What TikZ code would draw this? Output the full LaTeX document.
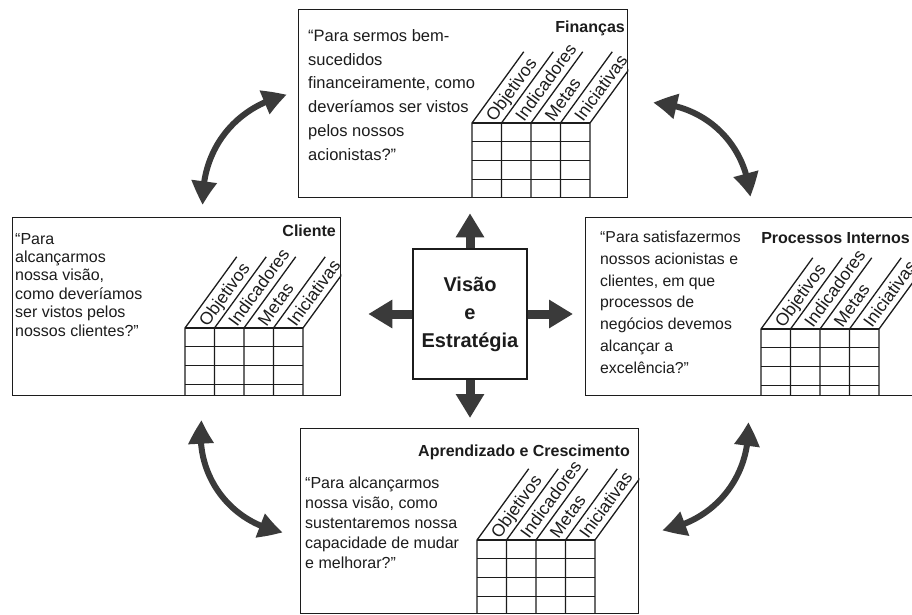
\documentclass[tikz, border = 0pt]{standalone}
\usepackage{fontspec}
\setmainfont{Liberation Sans}
\usetikzlibrary{
    arrows.meta,
    bending,
    calc
}
\definecolor{ink}{HTML}{1C1C1C}
\definecolor{darkarrow}{HTML}{3A3A3A}
\tikzset {
    rule/.style = {draw = ink, line width = 1.3pt},
    panel/.style = {rule, fill = white, inner sep = 0pt, anchor = north west},
    core/.style = {
        rule, fill = white, align = center, text = ink,
        minimum width = 114pt, minimum height = 130pt,
        font = \fontsize{20}{28}\selectfont\bfseries
    },
    heading/.style = {
        anchor = base east, inner sep = 0pt, text = ink,
        font = \fontsize{16}{19}\selectfont\bfseries
    },
    question/.style = {align = left, anchor = base west, inner sep = 0pt, text = ink},
    column label/.style = {
        rotate = 54, anchor = base west, inner sep = 0pt, text = ink,
        font = \fontsize{17.5}{20}\selectfont
    },
    %
    core arrow/.style = {
        draw = darkarrow, line width = 9pt,
        arrows = {-Triangle[length = 24pt 0 0, width = 27pt 0 0]}
    },
    cycle arrow/.style = {
        draw = darkarrow, line width = 6pt,
        arrows = {Triangle[length = 24pt 0 0, width = 24pt 0 0, bend]-Triangle[length = 24pt 0 0, width = 24pt 0 0, bend]}
    },
    scorecard/.pic = {
        \foreach \k in {0, ..., 4} {
            \draw [rule] (\k*29.5, -#1) -- (\k*29.5, 0) -- ++(54:88);
        }
        \foreach \k in {0, ..., 3} {
            \draw [rule] (0, -\k*18.8) -- (118, -\k*18.8);
        }
        \foreach \t [count = \k from 0] in {Objetivos, Indicadores, Metas, Iniciativas} {
            \node [column label] at (\k*29.5 + 22.5, 0.5) {\t};
        }
    }
}

\begin{document}
\begin{tikzpicture}[x = 1pt, y = 1pt]
    \useasboundingbox (0, 0) rectangle (912, -615);
    \clip (0, 0) rectangle (912, -615);

    \node (fin) [panel, minimum width = 329pt, minimum height = 188pt] at (298, -9) {};
    \node (cli) [panel, minimum width = 328pt, minimum height = 178pt] at (12, -217) {};
    \node (proc) [panel, minimum width = 340pt, minimum height = 178pt] at (585, -217) {};
    \node (apr) [panel, minimum width = 338pt, minimum height = 185pt] at (300, -428) {};
    \node (vis) [core] at (470, -314) {Visão\\e\\Estratégia};

    \begin{scope}
        \clip (fin.south west) rectangle (fin.north east);
        \pic at (472, -123) {scorecard = 74};
    \end{scope}
    \begin{scope}
        \clip (cli.south west) rectangle (cli.north east);
        \pic at (185, -328) {scorecard = 67};
    \end{scope}
    \begin{scope}
        \clip (proc.south west) rectangle (proc.north east);
        \pic at (761, -329) {scorecard = 66};
    \end{scope}
    \begin{scope}
        \clip (apr.south west) rectangle (apr.north east);
        \pic at (477, -540) {scorecard = 73};
    \end{scope}

    \node (fin title) [heading] at (625, -33) {Finanças};
    \node (cli title) [heading] at (336, -236) {Cliente};
    \node (proc title) [heading] at (910, -243) {Processos Internos};
    \node (apr title) [heading] at (630, -456) {Aprendizado e Crescimento};

    % base of a multi-line node is its last line
    \node (fin text) [question, font = \fontsize{16.5}{23.7}\selectfont] at (308, -160)
        {“Para sermos bem-\\sucedidos\\financeiramente, como\\deveríamos ser vistos\\pelos nossos\\acionistas?”};
    \node (cli text) [question, font = \fontsize{16}{18.4}\selectfont] at (15, -336)
        {“Para\\alcançarmos\\nossa visão,\\como deveríamos\\ser vistos pelos\\nossos clientes?”};
    \node (proc text) [question, font = \fontsize{15.8}{21.7}\selectfont] at (600, -373)
        {“Para satisfazermos\\nossos acionistas e\\clientes, em que\\processos de\\negócios devemos\\alcançar a\\excelência?”};
    \node (apr text) [question, font = \fontsize{16}{20}\selectfont] at (305, -568)
        {“Para alcançarmos\\nossa visão, como\\sustentaremos nossa\\capacidade de mudar\\e melhorar?”};

    \draw [core arrow, shorten > = 15pt] (vis.north) -- (vis.north |- fin.south);
    \draw [core arrow, shorten > = 10pt] (vis.south) -- (vis.south |- apr.north);
    \draw [core arrow, shorten > = 27pt] (vis.west) -- (vis.west -| cli.east);
    \draw [core arrow, shorten > = 12pt] (vis.east) -- (vis.east -| proc.west);

    \coordinate (cf) at (203, -205);
    \coordinate (fc) at (287, -95);
    \coordinate (fp) at (653, -103);
    \coordinate (pf) at (750, -197);
    \coordinate (ca) at (202, -420);
    \coordinate (ac) at (283, -532);
    \coordinate (pa) at (748, -422);
    \coordinate (ap) at (662, -530);
    \draw [cycle arrow] (cf) to [bend left = 40] (fc);
    \draw [cycle arrow] (fp) to [bend left = 42] (pf);
    \draw [cycle arrow] (ca) to [bend right = 45] (ac);
    \draw [cycle arrow] (pa) to [bend left = 42] (ap);
\end{tikzpicture}
\end{document}
